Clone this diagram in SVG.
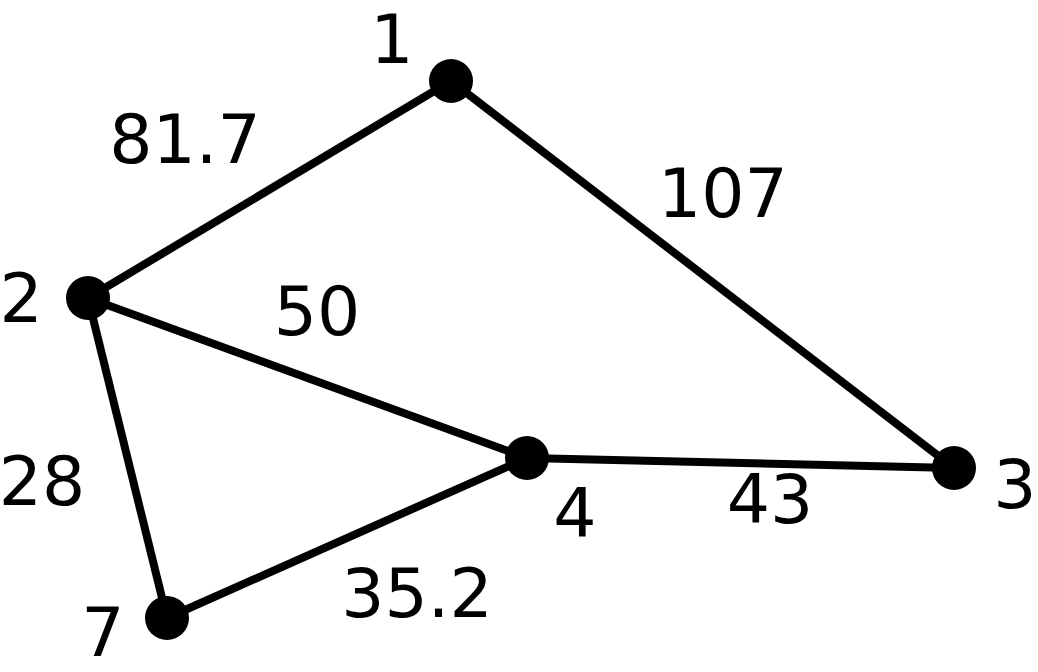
<svg xmlns="http://www.w3.org/2000/svg" width="1038" height="672" viewBox="0 0 1038 672">
<style>
.e{stroke:#000;stroke-width:8;fill:none}
.n{fill:#000}
text{font-family:"DejaVu Sans",sans-serif;font-size:68px;fill:#000;text-anchor:middle}
</style>
<rect width="1038" height="672" fill="#fff"/>
<g id="edges">
<line class="e" x1="451" y1="81" x2="88" y2="298"/>
<line class="e" x1="451" y1="81" x2="954" y2="468"/>
<line class="e" x1="88" y1="298" x2="527" y2="458"/>
<line class="e" x1="88" y1="298" x2="167" y2="618"/>
<line class="e" x1="527" y1="458" x2="954" y2="468"/>
<line class="e" x1="527" y1="458" x2="167" y2="618"/>
<text x="185" y="163">81.7</text>
<text x="723" y="217">107</text>
<text x="317" y="335">50</text>
<text x="42" y="505">28</text>
<text x="770" y="523">43</text>
<text x="417" y="617">35.2</text>
</g>
<g id="node1"><circle class="n" cx="451" cy="81" r="22"/><text x="392" y="63">1</text></g>
<g id="node2"><circle class="n" cx="88" cy="298" r="22"/><text x="21" y="322">2</text></g>
<g id="node3"><circle class="n" cx="954" cy="468" r="22"/><text x="1015" y="508">3</text></g>
<g id="node4"><circle class="n" cx="527" cy="458" r="22"/><text x="575" y="537">4</text></g>
<g id="node7"><circle class="n" cx="167" cy="618" r="22"/><text x="103" y="656">7</text></g>
</svg>
